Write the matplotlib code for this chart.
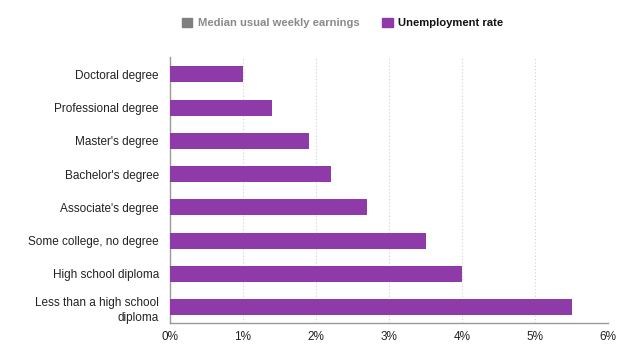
import matplotlib

matplotlib.use("Agg")
import matplotlib.pyplot as plt
from matplotlib.patches import Patch
from matplotlib.ticker import FuncFormatter

plt.rcParams["font.family"] = ["Liberation Sans", "DejaVu Sans"]

categories = [
    "Doctoral degree",
    "Professional degree",
    "Master's degree",
    "Bachelor's degree",
    "Associate's degree",
    "Some college, no degree",
    "High school diploma",
    "Less than a high school\ndiploma",
]
unemployment = [1.0, 1.4, 1.9, 2.2, 2.7, 3.5, 4.0, 5.5]
xticks = [0, 1, 2, 3, 4, 5, 6]

PURPLE = "#8E3AA9"

fig = plt.figure(figsize=(6.24, 3.55), dpi=100)
ax = fig.add_axes([0.2724, 0.0901, 0.7020, 0.7493])

y = list(range(len(categories)))
ax.barh(y, unemployment, height=0.48, color=PURPLE, zorder=3)
ax.set_ylim(len(categories) - 0.52, -0.52)
ax.set_xlim(0, 6)
ax.set_yticks(y, categories, fontsize=8.5, color="#222222")
ax.set_xticks(xticks)
ax.xaxis.set_major_formatter(FuncFormatter(lambda v, _: f"{v:.0f}%"))
ax.tick_params(axis="x", labelsize=8.5, colors="#222222", length=0, pad=6)
ax.tick_params(axis="y", length=0, pad=8)
for lbl in ax.get_yticklabels():
    lbl.set_horizontalalignment("right")
    lbl.set_multialignment("right")
    lbl.set_linespacing(1.35)

ax.grid(axis="x", color="#d0d0d0", linestyle=(0, (1, 2)), linewidth=0.8, zorder=0)
for side in ["top", "right"]:
    ax.spines[side].set_visible(False)
for side in ["left", "bottom"]:
    ax.spines[side].set_color("#999999")
    ax.spines[side].set_linewidth(1.0)

handles = [Patch(color="#7f7f7f"), Patch(color=PURPLE)]
leg = fig.legend(handles, ["Median usual weekly earnings", "Unemployment rate"],
                 loc="center", bbox_to_anchor=(0.549, 0.935), ncol=2, frameon=False,
                 fontsize=8.1, handlelength=0.95, handleheight=0.95, handletextpad=0.5,
                 columnspacing=2.0)
texts = leg.get_texts()
texts[0].set_color("#8a8a8a")
texts[0].set_fontweight("bold")
texts[1].set_color("#111111")
texts[1].set_fontweight("bold")

fig.savefig("out.png", dpi=100)
